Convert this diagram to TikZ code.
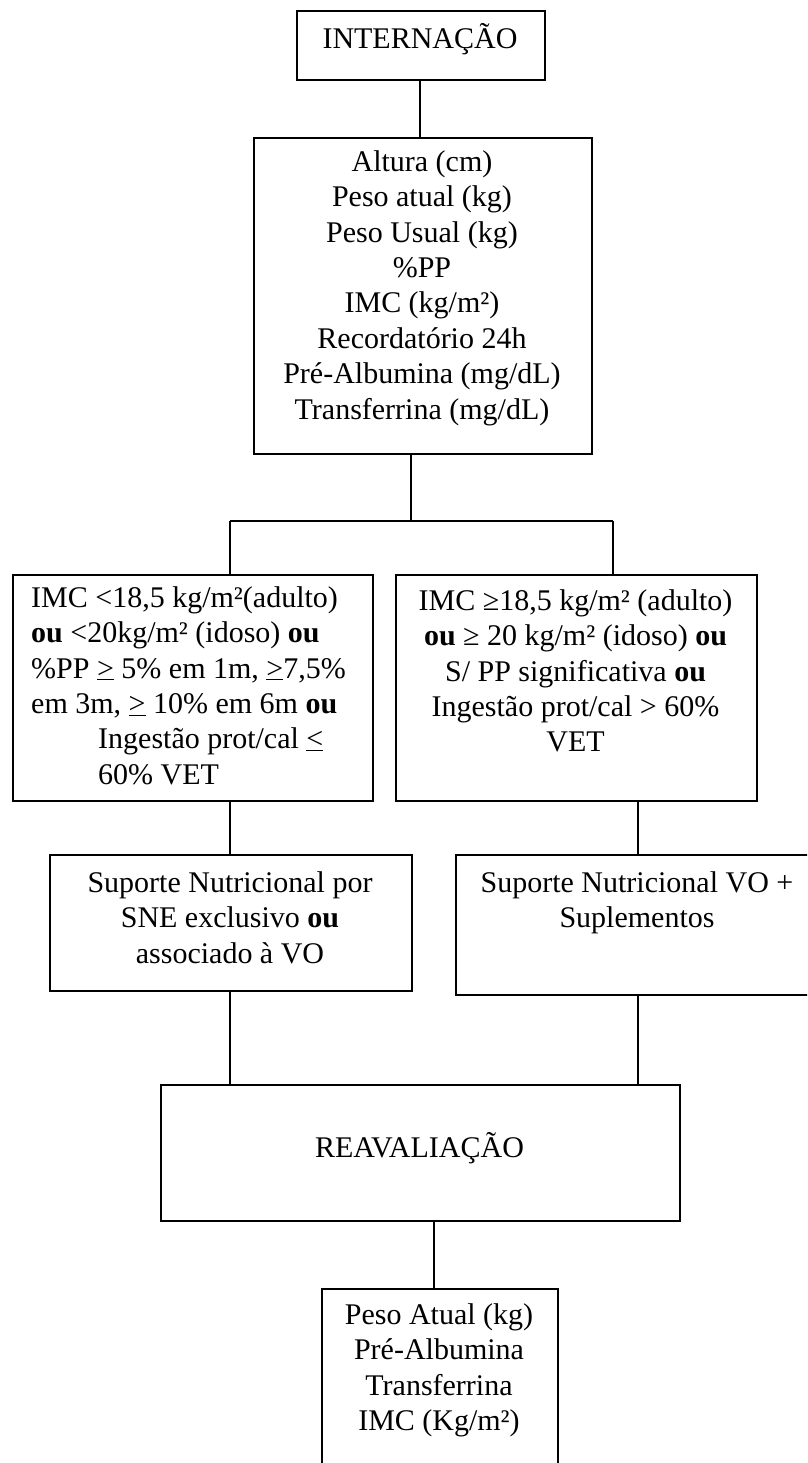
\documentclass[tikz,border=0pt]{standalone}
\usepackage{fontspec}
\setmainfont{Liberation Serif}
\newcommand{\tstrut}{\rule{0pt}{30pt}}
\newcommand{\uge}{\underline{>}}
\newcommand{\ule}{\underline{<}}
\begin{document}
\begin{tikzpicture}[x=1pt,y=-1pt,
  box/.style={draw, line width=1.8pt, inner sep=0pt, anchor=north west},
  txt/.style={inner sep=0pt, font=\fontsize{30}{35.4}\selectfont},
  conn/.style={line width=1.4pt}]
\useasboundingbox (0,0) rectangle (807,1463);
\clip (0,0) rectangle (807,1463);
% boxes
\node[box, minimum width=248pt, minimum height=69pt] (intern) at (296,10) {};
\node[box, minimum width=338pt, minimum height=316pt] (dados) at (253,137) {};
\node[box, minimum width=360pt, minimum height=226pt] (condL) at (12,574) {};
\node[box, minimum width=361pt, minimum height=226pt] (condR) at (395,574) {};
\node[box, minimum width=362pt, minimum height=136pt] (supL) at (49,854) {};
\node[box, minimum width=364pt, minimum height=140pt] (supR) at (455,854) {};
\node[box, minimum width=519pt, minimum height=136pt] (reav) at (160,1084) {};
\node[box, minimum width=236pt, minimum height=220pt] (fin) at (321,1288) {};
% texts
\node[txt, anchor=north, align=center] (tintern) at (420,18) {\tstrut INTERNAÇÃO};
\node[txt, anchor=north, align=center] (tdados) at (422,141) {\tstrut Altura (cm)\\Peso atual (kg)\\Peso Usual (kg)\\\%PP\\IMC (kg/m²)\\Recordatório 24h\\Pré-Albumina (mg/dL)\\Transferrina (mg/dL)};
\node[txt, anchor=north west, align=left] (tcondL) at (31,577) {\tstrut IMC <18,5 kg/m²(adulto)\\\textbf{ou} <20kg/m² (idoso) \textbf{ou}\\\%PP \uge{} 5\% em 1m, \uge7,5\%\\em 3m, \uge{} 10\% em 6m \textbf{ou}\\\hspace*{67pt}Ingestão prot/cal \ule\\\hspace*{67pt}60\% VET};
\node[txt, anchor=north, align=center] (tcondR) at (575.5,580) {\tstrut IMC ≥18,5 kg/m² (adulto)\\\textbf{ou} ≥ 20 kg/m² (idoso) \textbf{ou}\\S/ PP significativa \textbf{ou}\\Ingestão prot/cal > 60\%\\VET};
\node[txt, anchor=north, align=center] (tsupL) at (230,862) {\tstrut Suporte Nutricional por\\SNE exclusivo \textbf{ou}\\associado à VO};
\node[txt, anchor=north, align=center] (tsupR) at (637,862) {\tstrut Suporte Nutricional VO +\\Suplementos};
\node[txt, anchor=north, align=center] (treav) at (419.5,1127) {\tstrut REAVALIAÇÃO};
\node[txt, anchor=north, align=center] (tfin) at (439,1294) {\tstrut Peso Atual (kg)\\Pré-Albumina\\Transferrina\\IMC (Kg/m²)};
% connectors
\coordinate (jl) at (230,521);
\coordinate (jr) at (613,521);
\coordinate (jm) at (411,521);
\draw[conn] ([xshift=-1pt]intern.south) -- ([xshift=-1pt]intern.south |- dados.north);
\draw[conn] (jm |- dados.south) -- (jm);
\draw[conn] (jl) -- (jr);
\draw[conn] (jl) -- (jl |- condL.north);
\draw[conn] (jr) -- (jr |- condR.north);
\draw[conn] ([xshift=-1pt]supL.north |- condL.south) -- ([xshift=-1pt]supL.north);
\draw[conn] (supR.north |- condR.south) -- (supR.north);
\draw[conn] ([xshift=-1pt]supL.south) -- ([xshift=-1pt]supL.south |- reav.north);
\draw[conn] (supR.south) -- (supR.south |- reav.north);
\draw[conn] ([xshift=13.5pt]reav.south) -- ([xshift=13.5pt]reav.south |- fin.north);
\end{tikzpicture}
\end{document}
